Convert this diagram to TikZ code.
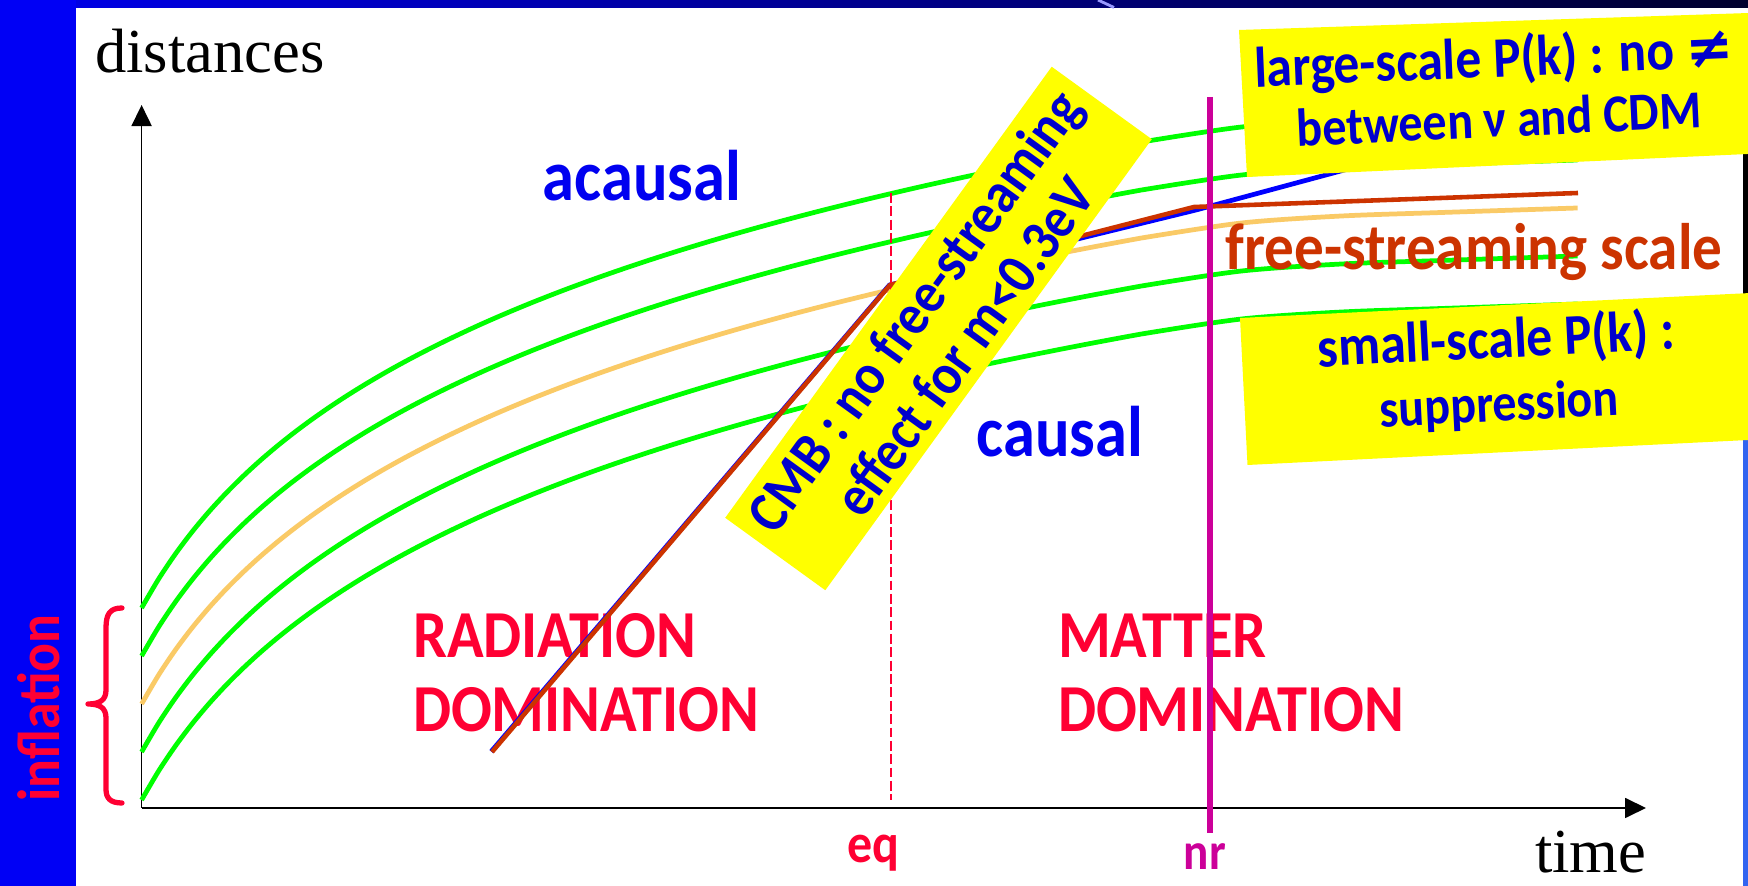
\documentclass[tikz,border=0pt]{standalone}
\usepackage{fontspec}
\setmainfont{Liberation Serif}
\newfontfamily\hand[FakeStretch=0.9]{Carlito}
\newfontfamily\symf{DejaVu Sans}
\usetikzlibrary{arrows.meta}
\definecolor{barblue}{RGB}{0,0,245}
\definecolor{topblue}{RGB}{0,0,235}
\definecolor{navy}{RGB}{0,0,45}
\definecolor{sideblue}{RGB}{50,100,240}
\definecolor{hblue}{RGB}{0,0,240}
\definecolor{bxblue}{RGB}{0,0,204}
\definecolor{hred}{RGB}{255,0,51}
\definecolor{brick}{RGB}{204,51,0}
\definecolor{mag}{RGB}{204,0,153}
\definecolor{lgreen}{RGB}{0,255,0}
\definecolor{lorange}{RGB}{250,202,102}
\definecolor{hyellow}{RGB}{255,255,0}
\tikzset{
  axisline/.style={black, line width=0.5pt, -{Triangle[length=0.21cm, width=0.2cm]}},
  greenline/.style={lgreen, line width=1.35pt},
  orangeline/.style={lorange, line width=1.35pt},
  redline/.style={brick, line width=1.3pt},
  blueline/.style={blue, line width=1.35pt},
  eqdash/.style={hred, line width=0.45pt, dash pattern=on 2.8pt off 1pt},
  nrline/.style={mag, line width=1.45pt},
  bracestyle/.style={hred, line width=1.5pt, line cap=round},
  txt/.style={inner sep=0pt, outer sep=0pt},
  serif/.style={txt, font=\fontsize{17.8}{21}\selectfont},
  bluelabel/.style={txt, text=hblue, font=\hand\bfseries\fontsize{20.4}{24}\selectfont},
  redlabel/.style={txt, text=hred, font=\hand\bfseries\fontsize{19.1}{22}\selectfont},
  fslabel/.style={txt, text=brick, font=\hand\bfseries\fontsize{18.7}{22}\selectfont},
  boxtext/.style={txt, text=bxblue, font=\hand\bfseries\fontsize{16.3}{17.5}\selectfont},
  boxtextb/.style={txt, text=bxblue, font=\hand\bfseries\fontsize{15.2}{17.5}\selectfont},
  yboxnode/.style={fill=hyellow, inner sep=0pt},
}
\newcommand\hcurve[2]{\draw[#1] plot[smooth, domain=0:1000, samples=60] ({141.6+\x},{#2-201.6*ln(1+\x/110)}) -- plot[smooth] coordinates {(1141.6,#2-466) (1241.6,#2-481) (1341.6,#2-488) (1441.6,#2-491.5) (1577.6,#2-496)};}
\begin{document}
\begin{tikzpicture}[x=0.01cm, y=-0.01cm, line join=round]
\useasboundingbox (0,0) rectangle (1748,886);
\clip (0,0) rectangle (1748,886);
% frame
\fill[white] (0,0) rectangle (1748,886);
\shade[left color=topblue, right color=navy] (0,0) rectangle (1748,7.5);
\draw[blue!40!white, line width=0.8pt] (1098,0) -- (1114,7.5);
\fill[barblue] (0,0) rectangle (76,886);
\fill[black] (1743,150) rectangle (1748,300);
\fill[sideblue] (1743,300) rectangle (1748,886);
% axes
\coordinate (O) at (141.6,808);
\coordinate (Ytip) at (141.6,105);
\coordinate (Xtip) at (1646,808);
\draw[axisline] (O) -- (Ytip);
\draw[axisline] (O) -- (Xtip);
% scale curves
\hcurve{greenline}{608}
\hcurve{greenline}{656}
\hcurve{orangeline}{704}
\hcurve{greenline}{752}
\hcurve{greenline}{800}
% labels in the plot
\node[bluelabel, anchor=base] (acausal) at (642,201) {acausal};
\node[bluelabel, anchor=base] (causal) at (1060,457) {causal};
\node[redlabel, anchor=base west] (rad1) at (413,658) {RADIATION};
\node[redlabel, anchor=base west] (rad2) at (413,732) {DOMINATION};
\node[redlabel, anchor=base west] (mat1) at (1058,658) {MATTER};
\node[redlabel, anchor=base west] (mat2) at (1058,732) {DOMINATION};
\node[fslabel, anchor=base] (fslab) at (1474,270) {free-streaming scale};
% free-streaming scale lines
\coordinate (bl0) at (491.2,751.5);
\coordinate (bleq) at (889.5,285);
\coordinate (blnr) at (1196,210);
\coordinate (blend) at (1578,107);
\draw[blueline] (bl0) -- (bleq) -- (blnr) -- (blend);
\coordinate (fs0) at (492,752);
\coordinate (fseq) at (890,285);
\coordinate (fsnr) at (1194,207);
\coordinate (fsend) at (1578,193);
\draw[redline] (fs0) -- (fseq) -- (fsnr) -- (fsend);
% eq and nr
\coordinate (eqtop) at (891,193);
\coordinate (eqbot) at (891,800);
\draw[eqdash] (eqtop) -- (eqbot);
\coordinate (nrtop) at (1210,97);
\coordinate (nrbot) at (1210,833);
\draw[nrline] (nrtop) -- (nrbot);
\node[txt, text=hred, font=\hand\bfseries\fontsize{15.8}{18}\selectfont, anchor=base] (eq) at (873,863) {eq};
\node[txt, text=mag, font=\hand\bfseries\fontsize{14.9}{18}\selectfont, anchor=base] (nr) at (1205,870) {nr};
% yellow boxes
\node[yboxnode, rotate=54.1, minimum width=5.565cm, minimum height=1.235cm, align=center, text=bxblue, font=\hand\bfseries\fontsize{16.5}{17.5}\selectfont] (cmb) at (938.5,328.5) {CMB : no free-streaming\\effect for m<0.3eV};
\fill[hyellow] (1239,30) -- (1800,11.3) -- (1800,151.6) -- (1247,177) -- cycle;
\node[boxtext, rotate=2.4, anchor=base] (ls1) at (1495,77) {large-scale P(k) : no {\symf\bfseries ≠}};
\node[boxtextb, rotate=2.7, anchor=base] (ls2) at (1500,137) {between ν and CDM};
\fill[hyellow] (1240,318) -- (1800,290.6) -- (1800,437.4) -- (1247.5,465) -- cycle;
\node[boxtext, rotate=2.9, anchor=base] (ss1) at (1497,358) {small-scale P(k) :};
\node[boxtextb, rotate=2.9, anchor=base] (ss2) at (1500,421) {suppression};
% inflation brace
\draw[bracestyle] (122,608) .. controls (110,608) and (106,614) .. (106,628) -- (106,690) .. controls (106,700) and (100,704) .. (88,704) .. controls (100,704) and (106,708) .. (106,718) -- (106,789) .. controls (106,798) and (110,803) .. (122,803);
\node[txt, text=hred, rotate=90, font=\hand\bfseries\fontsize{17}{20}\selectfont] (infl) at (39,708) {inflation};
% axis labels
\node[serif, anchor=base west] (dist) at (95,73) {distances};
\node[serif, anchor=base west] (time) at (1535,873) {time};
\end{tikzpicture}
\end{document}
